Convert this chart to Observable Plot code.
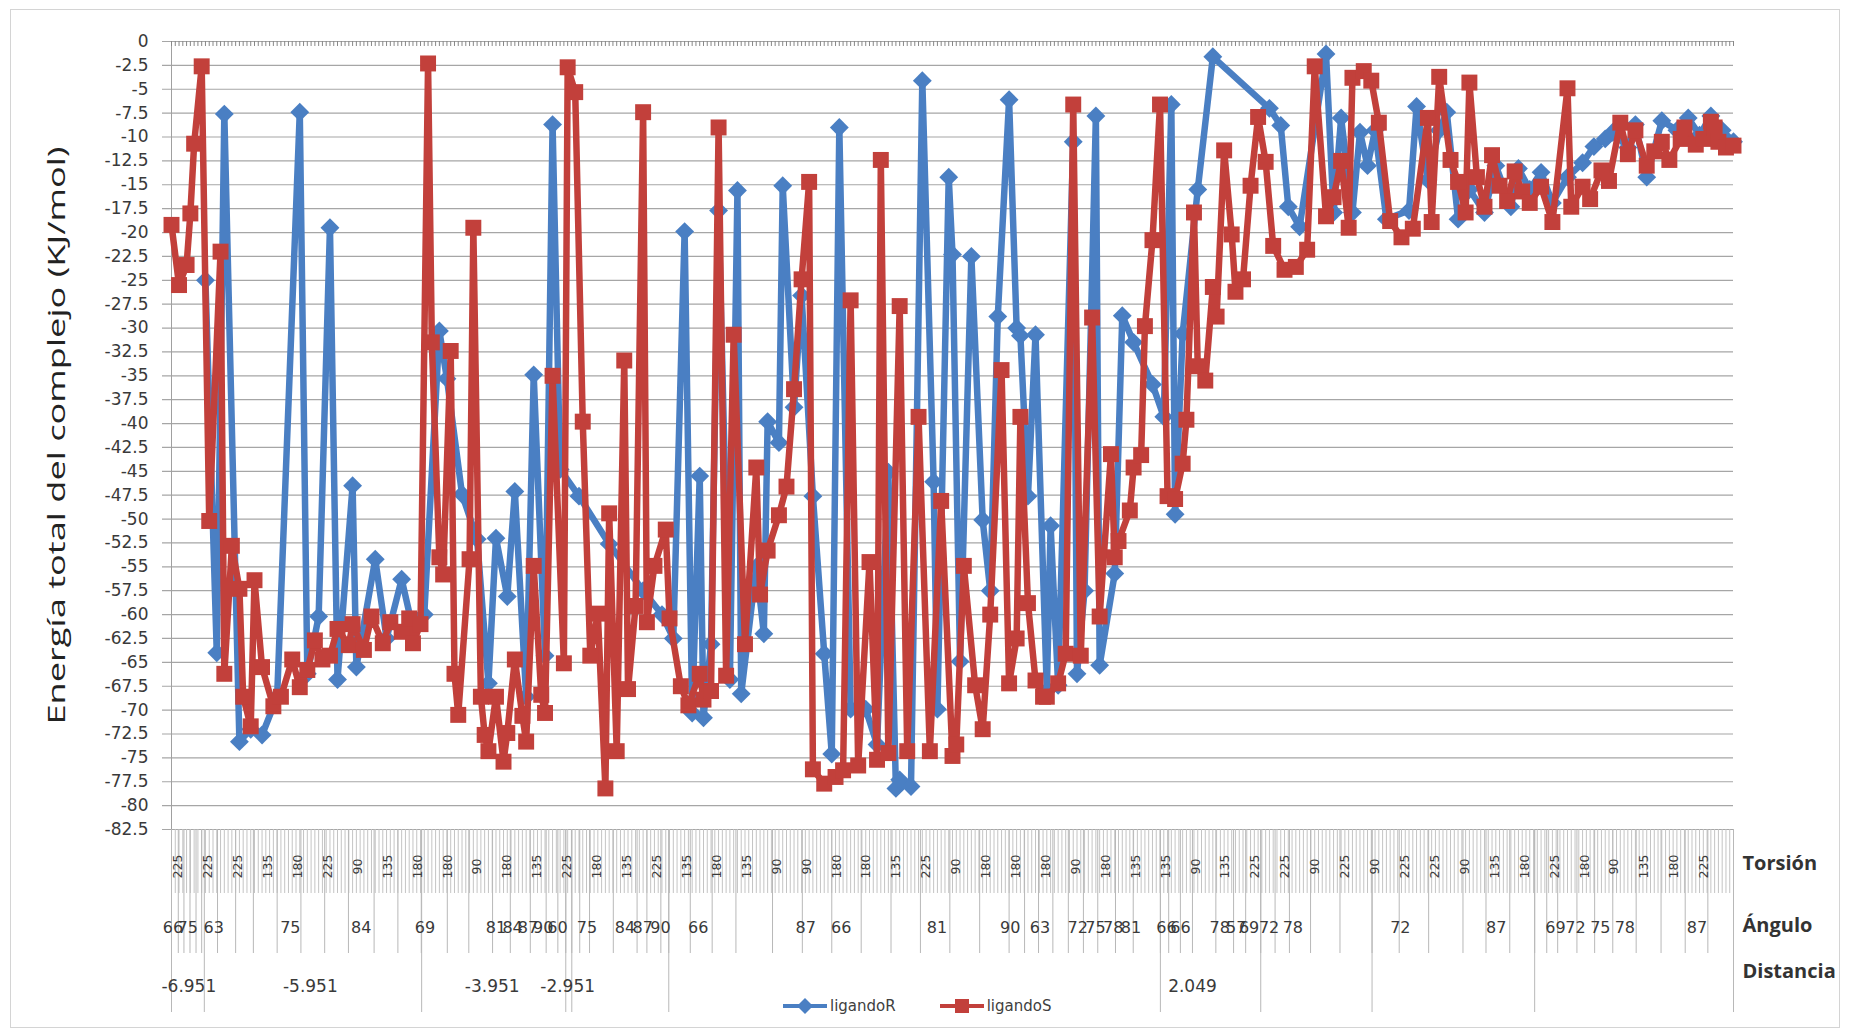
<!DOCTYPE html>
<html><head><meta charset="utf-8">
<script src="https://cdn.jsdelivr.net/npm/d3@7"></script>
<script src="https://cdn.jsdelivr.net/npm/@observablehq/plot@0.6"></script>
<style>
html,body{margin:0;padding:0;background:#fff;}
#wrap{position:relative;width:1852px;height:1032px;font-family:"DejaVu Sans",sans-serif;}
#frame{position:absolute;left:10px;top:9px;width:1830px;height:1019px;border:1px solid #d4d4d4;box-sizing:border-box;pointer-events:none;}
#chart{position:absolute;left:0;top:0;}
#legend{position:absolute;left:783px;top:996px;display:flex;align-items:center;font-size:15px;color:#404040;}
#legend .item{display:flex;align-items:center;margin-right:44px;}
#legend svg{margin-right:3px;}
</style></head>
<body><div id="wrap"><div id="chart"></div><div id="frame"></div><div id="legend"></div></div>
<script>
// ---- data ----
const seriesNames = ["ligandoR", "ligandoS"];
const ligandoR_cat = [11,14,16,20,23,26,30,36,38,41,44,46,50,51,56,59,63,66,69,73,75,79,83,86,88,91,93,96,98,101,103,105,110,118,127,132,135,138,140,142,143,145,147,150,152,153,157,159,160,163,164,167,169,172,175,177,179,182,186,189,192,194,195,198,201,204,205,208,209,211,214,217,219,221,224,226,227,229,231,234,235,237,241,242,244,247,248,252,254,257,262,265,267,268,270,274,278,293,296,298,301,308,310,312,315,317,319,321,324,330,332,335,338,340,343,346,350,353,357,359,362,365,368,372,376,379,382,384,388,390,393,397,401,404,407,410,413,416];
const ligandoR_val = [-25,-64,-7.6,-73.3,-72,-72.6,-68.6,-7.4,-66.2,-60.2,-19.5,-66.8,-46.5,-65.5,-54.2,-62.5,-56.3,-61.5,-60,-30.3,-35.3,-47.4,-52.1,-67.2,-52,-58.1,-47.1,-68.6,-34.9,-64.3,-8.7,-44.8,-47.6,-52.6,-57.5,-60,-62.5,-19.9,-70.3,-45.5,-70.8,-63.1,-17.7,-66.8,-15.6,-68.3,-55,-62,-39.8,-42,-15.1,-38.3,-26.6,-47.6,-64.1,-74.6,-9,-69.9,-69.9,-73.6,-45.1,-78.2,-77.3,-78,-4.1,-46.1,-69.9,-14.2,-22.3,-64.9,-22.5,-50.1,-57.5,-28.8,-6.1,-30,-30.8,-47.6,-30.7,-68,-50.7,-67.4,-10.5,-66.2,-57.5,-7.8,-65.3,-55.7,-28.7,-31.5,-35.9,-39.3,-6.6,-49.5,-30.6,-15.5,-1.6,-7,-8.8,-17.3,-19.4,-1.3,-17.9,-8,-17.9,-9.5,-13,-9.3,-18.6,-17.7,-6.8,-14.5,-9.3,-7.4,-18.6,-15.5,-17.9,-13,-17.3,-13.3,-15.5,-13.7,-16.9,-14.2,-12.7,-11,-10.2,-9.5,-11.1,-8.7,-14.2,-8.3,-9.3,-8,-9.8,-7.8,-9.3,-10.5];
const ligandoS_cat = [2,4,6,7,8,10,12,15,16,18,20,21,23,24,26,29,31,34,36,38,40,42,44,46,49,50,53,55,58,60,63,65,66,68,70,71,73,74,76,77,78,81,82,84,85,86,88,90,91,93,95,96,98,100,101,103,106,107,109,111,113,115,117,118,120,122,123,125,127,128,130,133,134,137,139,142,143,145,147,149,151,154,157,158,160,163,165,167,169,171,172,175,178,180,182,184,187,189,190,192,195,197,200,203,206,209,210,212,215,217,219,222,224,226,227,229,231,233,234,237,239,241,243,246,248,251,252,253,256,257,259,260,262,264,266,268,270,271,273,274,276,278,279,281,283,284,286,288,290,292,294,297,300,303,305,308,310,312,314,315,318,320,322,325,328,331,335,336,338,341,343,345,346,348,350,352,354,356,358,360,362,365,368,372,373,376,378,381,383,386,388,390,393,395,397,399,402,403,406,408,410,411,412,414,416];
const ligandoS_val = [-19.2,-25.5,-23.4,-18,-10.7,-2.6,-50.2,-22,-66.2,-52.8,-57.3,-68.6,-71.7,-56.4,-65.5,-69.6,-68.6,-64.7,-67.6,-65.8,-62.7,-64.7,-64.3,-61.5,-63.2,-61,-63.7,-60.2,-63,-60.8,-61.8,-60.4,-63,-61,-2.3,-31.5,-54,-55.8,-32.4,-66.2,-70.5,-54.2,-19.5,-68.6,-72.6,-74.3,-68.6,-75.4,-72.4,-64.7,-70.6,-73.3,-54.9,-68.4,-70.3,-35,-65.1,-2.7,-5.3,-39.8,-64.3,-59.9,-78.2,-49.4,-74.3,-33.4,-67.8,-59.1,-7.4,-60.8,-54.9,-51.1,-60.4,-67.5,-69.5,-66.2,-68.9,-68,-9,-66.4,-30.7,-63.1,-44.6,-57.9,-53.3,-49.6,-46.6,-36.4,-24.9,-14.7,-76.2,-77.7,-77,-76.3,-27.1,-75.8,-54.5,-75.2,-12.4,-74.5,-27.7,-74.3,-39.3,-74.3,-48.1,-74.8,-73.6,-54.9,-67.4,-72,-60,-34.4,-67.2,-62.5,-39.3,-58.8,-66.9,-68.6,-68.6,-67.2,-64.1,-6.6,-64.3,-28.9,-60.2,-43.2,-54,-52.3,-49.1,-44.6,-43.3,-29.8,-20.8,-6.6,-47.6,-47.9,-44.2,-39.6,-17.9,-34,-35.5,-25.7,-28.8,-11.4,-20.2,-26.2,-24.9,-15.1,-7.9,-12.6,-21.4,-23.9,-23.6,-21.8,-2.6,-18.3,-16.3,-12.5,-19.5,-3.8,-3.1,-4.1,-8.5,-18.8,-20.5,-19.6,-8,-18.9,-3.7,-12.4,-14.7,-17.9,-4.3,-14.2,-17.3,-11.9,-15.1,-16.7,-13.6,-15.7,-16.9,-15.2,-18.9,-4.9,-17.3,-15.2,-16.5,-13.5,-14.6,-8.5,-11.8,-9.3,-13,-11.5,-10.5,-12.4,-10.2,-9,-10.8,-10.2,-8.4,-9,-10.5,-11.1,-10.9];

const categoryFirst = 2, categoryLast = 416;
const torsionLabels = ["225","225","225","135","180","225","90","135","180","180","90","180","135","225","180","135","225","135","180","135","90","90","180","180","135","225","90","180","180","180","90","180","135","135","90","135","225","225","90","225","90","225","225","90","135","180","225","180","90","135","180","225"];
const torsionLabelFirst = 3.8, torsionLabelStep = 7.93;
const anguloLabels = ["66","75","63","75","84","69","81","84","87","90","60","75","84","87","90","66","87","66","81","90","63","72","75","78","81","66","66","78","57","69","72","78","72","87","69","72","75","78","87"];
const anguloLabelCat = [2.4,6.3,13.2,33.5,52.3,69.2,88,92.4,96.5,100.5,104.3,112.1,122.2,126.9,131.6,141.6,170.1,179.5,204.9,224.3,232.2,242.2,246.9,251.6,256.3,265.7,269.4,279.8,284.2,287.6,292.9,299.2,327.7,353.1,368.8,374.1,380.7,387.2,406.3];
const anguloSeps = [2,3.8,5.3,6.9,8.5,10,14.2,19,23.7,30,36.3,42.6,48.9,55.7,62,68.2,75.1,80.8,87.1,91.8,97.1,101.3,104.4,106.5,108.1,110.2,112.8,119.1,125.4,128,131.7,133.8,139.5,145.3,151.6,161.3,169.2,177,184.8,192.7,200.5,208.3,216.2,224,228.1,231.8,235.6,239.7,243.7,247.5,252.2,256.9,264.1,266.3,269.4,272.6,278.8,283.5,286.7,290.7,294.5,298.3,303.9,311.7,320.2,327.4,335.2,344.3,350.4,356.7,363.3,366.5,369.4,374.5,379.2,384,390.2,396.8,403.2,409.2,416];
const distanciaLabels = ["-6.951","-5.951","-3.951","-2.951","2.049"];
const distanciaLabelCat = [6.6,38.8,87,107,272.6];
const distanciaSeps = [2,10.7,68.3,106.5,108.1,133.8,264.1,290.7,320.2,363.3,416];
const yTicks = d3.range(0, 34).map(i => -82.5 + 2.5 * i);
const levelNames = ["Torsión", "Ángulo", "Distancia"];
const yTitle = "Energía total del complejo (KJ/mol)";

// ---- styles ----
const blue = "#4a7fc3", red = "#c2403b";
const yMin = -82.5;
const font = "'DejaVu Sans', sans-serif";
const levelOffsets = [40, 102, 148];

const R = ligandoR_cat.map((c, i) => ({c, v: ligandoR_val[i]}));
const S = ligandoS_cat.map((c, i) => ({c, v: ligandoS_val[i]}));
const cats = d3.range(categoryFirst, categoryLast + 1);

const chart = Plot.plot({
  width: 1852, height: 1032,
  marginLeft: 171, marginRight: 119, marginTop: 41, marginBottom: 203,
  style: {fontFamily: font, background: "transparent"},
  x: {type: "linear", domain: [categoryFirst, categoryLast], axis: null},
  y: {domain: [yMin, 0], axis: null},
  marks: [
    Plot.ruleY(yTicks, {stroke: "#a6a6a6", strokeWidth: 1.2, insetLeft: -9}),
    Plot.ruleX([categoryFirst], {stroke: "#a0a0a0"}),
    Plot.axisY(yTicks, {tickSize: 0, tickPadding: 23, fontSize: 17, fill: "#3a3a3a",
      tickFormat: d => d === 0 ? "0" : String(d), label: null}),
    // top category tick marks
    Plot.ruleX(cats, {y1: () => 0, y2: () => 0, insetBottom: -5, stroke: "#888"}),
    // multi-level category axis
    Plot.ruleX(cats, {y1: () => yMin, y2: () => yMin, insetBottom: -64, stroke: "#c4c4c4"}),
    Plot.ruleX(anguloSeps, {y1: () => yMin, y2: () => yMin, insetBottom: -124, stroke: "#b8b8b8"}),
    Plot.ruleX(distanciaSeps, {y1: () => yMin, y2: () => yMin, insetBottom: -183, stroke: "#b8b8b8"}),
    Plot.text(torsionLabels, {x: (d, i) => torsionLabelFirst + torsionLabelStep * i, y: () => yMin, dy: 37,
      rotate: -90, text: d => d, fontSize: 12.5, fill: "#3a3a3a"}),
    Plot.text(anguloLabels, {x: (d, i) => anguloLabelCat[i], y: () => yMin, dy: 98,
      text: d => d, fontSize: 16, fill: "#3a3a3a"}),
    Plot.text(distanciaLabels, {x: (d, i) => distanciaLabelCat[i], y: () => yMin, dy: 157,
      text: d => d, fontSize: 17, fill: "#3a3a3a"}),
    ...levelNames.map((name, i) => Plot.text([name], {frameAnchor: "bottom-right", dx: 9, dy: levelOffsets[i],
      textAnchor: "start", fontWeight: "bold", fontSize: 20, fill: "#333", fontFamily: "'Open Sans', sans-serif", text: d => d})),
    // y title
    Plot.text([yTitle], {frameAnchor: "left", dx: -114, rotate: -90, textAnchor: "middle", fontSize: 24,
      fontFamily: "'Open Sans', sans-serif", fill: "#222", text: d => d}),
    // series
    Plot.line(R, {x: "c", y: "v", stroke: blue, strokeWidth: 6.5, strokeLinejoin: "round"}),
    Plot.dot(R, {x: "c", y: "v", symbol: "diamond2", r: 8.5, fill: blue, stroke: "none"}),
    Plot.line(S, {x: "c", y: "v", stroke: red, strokeWidth: 6.5, strokeLinejoin: "round"}),
    Plot.dot(S, {x: "c", y: "v", symbol: "square", r: 9, fill: red, stroke: "none"})
  ]
});
document.getElementById("chart").appendChild(chart);
// the reference's axis title is drawn elongated along its length
d3.select(chart).selectAll("text").filter(function() { return this.textContent === yTitle; })
  .attr("textLength", 578).attr("lengthAdjust", "spacingAndGlyphs");

// legend
const legend = document.getElementById("legend");
[[seriesNames[0], blue, "diamond"], [seriesNames[1], red, "square"]].forEach(([name, col, shape]) => {
  const item = document.createElement("div"); item.className = "item";
  const marker = shape === "diamond"
    ? `<path d="M22,2 L30,10 L22,18 L14,10Z" fill="${col}"/>`
    : `<rect x="15" y="3" width="14" height="14" fill="${col}"/>`;
  item.innerHTML = `<svg width="44" height="20"><line x1="0" y1="10" x2="44" y2="10" stroke="${col}" stroke-width="4"/>${marker}</svg><span>${name}</span>`;
  legend.appendChild(item);
});
</script>
</body></html>
